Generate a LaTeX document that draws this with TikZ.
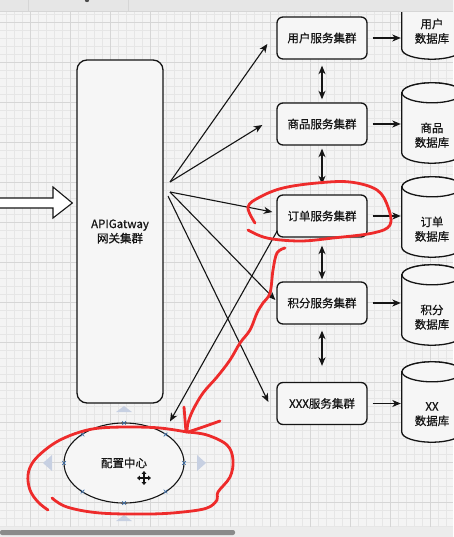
\documentclass[tikz,border=0pt]{standalone}
\usepackage{fontspec}
\newfontfamily\cjk[FakeBold=0.6]{Noto Sans CJK SC}
\usetikzlibrary{arrows.meta,shapes.geometric,calc}
\definecolor{bgc}{HTML}{F4F4F4}
\definecolor{minor}{HTML}{E6E6E6}
\definecolor{major}{HTML}{D6D6D6}
\definecolor{boxfill}{HTML}{F6F6F6}
\definecolor{ink}{HTML}{151515}
\definecolor{pen}{HTML}{EE2B2B}
\definecolor{handle}{HTML}{C7D0E2}
\definecolor{xmark}{HTML}{3B6EA8}
\definecolor{topbar}{HTML}{E6E6E6}
\definecolor{scrolltrack}{HTML}{ECECEC}
\definecolor{thumb}{HTML}{8A8A8A}
\newcommand\dbcyl[1]{%
  \draw[dbline] ($(#1.north west)+(0,10)$) -- ($(#1.south west)+(0,-10)$)
    arc[start angle=180,end angle=0,x radius=30,y radius=10]
    -- ($(#1.north east)+(0,10)$)
    arc[start angle=0,end angle=-180,x radius=30,y radius=10] -- cycle;
  \draw[dbline] ($(#1.north)+(0,10)$) ellipse[x radius=30,y radius=10];}
\newcommand\xmk[1]{\draw[xmark,line width=0.7pt] ($(#1)+(-1.8,-1.8)$) -- ($(#1)+(1.8,1.8)$) ($(#1)+(-1.8,1.8)$) -- ($(#1)+(1.8,-1.8)$);}
\tikzset{
  txt/.style={font=\cjk\fontsize{11.5}{14.5}\selectfont, text=ink, align=center},
  svc/.style={txt, draw=ink, line width=1.3pt, fill=boxfill, rounded corners=6pt,
    minimum width=90pt, minimum height=42pt, inner sep=0pt},
  dbbox/.style={minimum width=60pt, minimum height=80pt, inner sep=0pt, draw=none},
  dbline/.style={draw=ink, line width=1.3pt, fill=boxfill},
  arr/.style={draw=ink, line width=1.1pt, -{Stealth[length=8.5pt,width=7pt,inset=2.5pt]}},
  darr/.style={draw=ink, line width=1.2pt, {Stealth[length=8.5pt,width=7pt,inset=2.5pt]}-{Stealth[length=8.5pt,width=7pt,inset=2.5pt]}},
  redpen/.style={draw=pen, line width=2.8pt, line cap=round, line join=round},
}
\begin{document}
\begin{tikzpicture}[x=1pt,y=-1pt]
\useasboundingbox (0,0) rectangle (453,537);
% background and grid
\fill[bgc] (0,0) rectangle (453,537);
\foreach \x in {6,14,...,453} \draw[minor,line width=0.5pt] (\x,11) -- (\x,527);
\foreach \y in {14,22,...,527} \draw[minor,line width=0.5pt] (0,\y) -- (453,\y);
\foreach \x in {30,70,...,453} \draw[major,line width=0.7pt] (\x,11) -- (\x,527);
\foreach \y in {22,62,...,527} \draw[major,line width=0.7pt] (0,\y) -- (453,\y);

% databases
\node[dbbox] (d1) at (432,19) {};
\node[dbbox] (d2) at (432,123) {};
\node[dbbox] (d3) at (432,217) {};
\node[dbbox] (d4) at (432,305) {};
\node[dbbox] (d5) at (432,402) {};
\dbcyl{d1}\dbcyl{d2}\dbcyl{d3}\dbcyl{d4}\dbcyl{d5}
\node[txt] (t1) at ($(d1.south)+(0,-28)$) {用户\\数据库};
\node[txt] (t2) at ($(d2.south)+(0,-28)$) {商品\\数据库};
\node[txt] (t3) at ($(d3.south)+(0,-28)$) {订单\\数据库};
\node[txt] (t4) at ($(d4.south)+(0,-28)$) {积分\\数据库};
\node[txt] (t5) at ($(d5.south)+(0,-28)$) {XX\\数据库};

% top bar
\fill[topbar] (0,0) rectangle (453,11);
\draw[major,line width=0.8pt] (0,11) -- (453,11);
\draw[major,line width=0.8pt] (28,0) -- (28,11) (128,0) -- (128,11);
\fill[gray!60!black] (87,0) circle (2.2);

% gateway
\node[txt, draw=ink, line width=1.3pt, fill=boxfill, rounded corners=10pt,
  minimum width=86pt, minimum height=343pt, inner sep=0pt] (gw) at (120,231.5) {APIGatway\\网关集群};

% services
\node[svc] (s1) at (322,38) {用户服务集群};
\node[svc] (s2) at (322,124) {商品服务集群};
\node[svc] (s3) at (322,216) {订单服务集群};
\node[svc] (s4) at (322,303) {积分服务集群};
\node[svc] (s5) at (322,403.5) {XXX服务集群};

% config centre
\node[txt, ellipse, draw=ink, line width=1.1pt, fill=boxfill, minimum width=120pt,
  minimum height=80pt, inner sep=0pt] (cfg) at (124,463) {配置中心};

% big hollow input arrow
\coordinate (inL) at (0,203);
\draw[ink, line width=1.1pt, fill=white] ($(inL)+(0,-5)$) -- ($(inL)+(53,-5)$) -- ($(inL)+(53,-16)$)
  -- ($(gw.west)+(-4,-28.5)$) -- ($(inL)+(53,15)$) -- ($(inL)+(53,5)$) -- ($(inL)+(0,5)$);

% gateway fan-out
\coordinate (g1) at (170,182);
\coordinate (g2) at (170,192);
\coordinate (g3) at (168,196);
\draw[arr] (g1) -- ($(s1.west)+(-9,6)$);
\draw[arr] (g1) -- ($(s2.west)+(-14,1)$);
\draw[arr] (g2) -- ($(s3.west)+(-4,-4)$);
\draw[arr] (g2) -- ($(s4.west)+(-1,-3)$);
\draw[arr] (g3) -- ($(s5.west)+(-8,-1.5)$);

% service to DB
\foreach \s/\d in {s1/d1,s2/d2,s3/d3,s4/d4,s5/d5}
  \draw[arr, shorten <=5pt, shorten >=1pt] (\s.east) -- (\s.east -| \d.west);

% service chain
\draw[darr, shorten <=6pt, shorten >=3pt] (s1.south) -- (s2.north);
\draw[darr, shorten <=3pt, shorten >=10pt] (s2.south) -- (s3.north);
\draw[darr, shorten <=8pt, shorten >=2pt] (s3.south) -- (s4.north);
\draw[darr, shorten <=6pt, shorten >=16pt] (s4.south) -- (s5.north);

% order service to config centre
\draw[arr] ($(s3.south west)+(1,-7)$) -- ($(cfg.north)+(46,-1)$);

% draw.io selection handles
\fill[handle] (116,412) -- (124,406) -- (132,412) -- cycle;
\fill[handle] (124,515) -- (132,521) -- (116,521) -- cycle;
\fill[handle] (52,455) -- (43,463) -- (52,471) -- cycle;
\fill[handle] (197,455) -- (206,463) -- (197,471) -- cycle;
\foreach \px/\py in {124/423,124/503,64/463,184/463,82.5/434.5,165.5/434.5,82.5/491.5,165.5/491.5}
  {\coordinate (xm) at (\px,\py); \xmk{xm}}
% move cursor
\coordinate (cur) at (144,478);
\draw[ink, line width=1.2pt, {Triangle[length=2.8pt,width=4.5pt]}-{Triangle[length=2.8pt,width=4.5pt]}] ($(cur)+(-7,0)$) -- ($(cur)+(7,0)$);
\draw[ink, line width=1.2pt, {Triangle[length=2.8pt,width=4.5pt]}-{Triangle[length=2.8pt,width=4.5pt]}] ($(cur)+(0,-7)$) -- ($(cur)+(0,7)$);

% red hand annotations
\draw[redpen] plot[smooth, tension=0.6] coordinates {(255,223) (248,207) (260,197) (283,188) (317,183) (350,182) (377,190) (388,207) (390,225) (373,233) (333,238) (300,241) (267,238) (248,230)};
\draw[redpen] plot[smooth, tension=0.6] coordinates {(285,248) (277,253) (273,270) (270,293) (263,303) (257,313) (250,330) (240,343) (230,360) (217,377) (203,393) (193,410) (188,423) (187,432)};
\draw[redpen] (184,407) -- (186,432);
\draw[redpen] plot[smooth, tension=0.6] coordinates {(220,421) (203,427) (188,432)};
\draw[redpen] plot[smooth, tension=0.6] coordinates {(187,432) (160,428) (130,427) (100,428) (80,432) (60,440) (45,450) (33,462) (28,475) (30,490) (38,502) (48,510)};
\draw[redpen] plot[smooth, tension=0.6] coordinates {(52,498) (67,507) (100,513) (150,514) (183,512) (207,508) (217,500) (218,492) (230,477) (233,460) (227,445) (207,435) (187,432)};

% bottom scroll area
\fill[scrolltrack] (0,527) rectangle (453,537);
\fill[thumb, rounded corners=2pt] (0,530) rectangle (235,535);
\end{tikzpicture}
\end{document}
